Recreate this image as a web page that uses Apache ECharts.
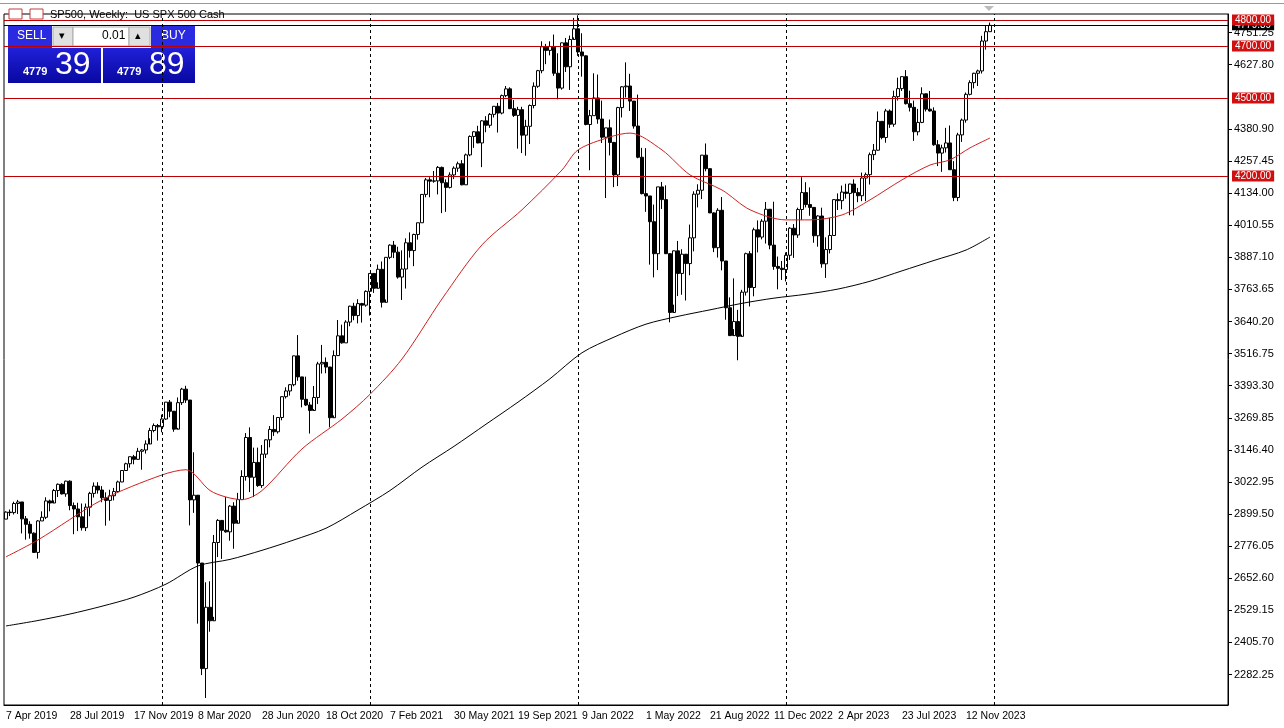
<!DOCTYPE html>
<html>
<head>
<meta charset="utf-8">
<script src="https://cdn.jsdelivr.net/npm/echarts@6/dist/echarts.min.js"></script>
<style>
html,body{margin:0;padding:0;background:#fff;}
#chart{width:1284px;height:728px;}
</style>
</head>
<body>
<div id="chart"></div>
<script>
// weekly candles, first week starts 7 Apr 2019
var firstOpen = 2880;
var closes = [
// 2019
2907,2905,2940,2946,2881,2860,2826,2752,2873,2887,2950,2942,2990,3014,2977,3026,2932,2919,2889,2847,
2926,2979,3007,2992,2962,2952,2970,2986,3023,3067,3093,3120,3110,3141,3146,3169,3221,3240,3235,
// 2020
3265,3330,3295,3226,3328,3380,3338,2954,2972,2711,2305,2541,2489,2790,2875,2837,2831,2930,2864,2955,
3044,3194,3041,3098,3009,3130,3185,3225,3216,3271,3351,3373,3397,3508,3427,3341,3319,3298,3348,3477,
3483,3465,3270,3509,3585,3558,3638,3699,3663,3709,3703,3756,
// 2021
3825,3768,3841,3714,3887,3934,3907,3811,3842,3943,3913,3975,4020,4129,4185,4180,4181,4233,4174,4156,
4204,4230,4247,4166,4281,4352,4370,4327,4412,4395,4437,4468,4442,4509,4535,4459,4433,4455,4357,4391,
4471,4545,4605,4697,4683,4698,4595,4538,4712,4620,4725,4766,
// 2022
4677,4662,4398,4432,4500,4419,4349,4385,4329,4204,4463,4543,4546,4488,4392,4272,4132,4123,4024,3901,
4158,4109,3901,3675,3912,3825,3899,3863,3962,4130,4145,4280,4228,4058,3924,4068,3873,3693,3586,3640,
3583,3753,3901,3771,3993,3965,4026,4072,3934,3852,3845,3840,
// 2023
3895,3999,3973,4071,4136,4090,4079,3970,4046,3862,3917,3971,4109,4105,4138,4133,4169,4136,4124,4192,
4205,4282,4299,4410,4348,4450,4399,4505,4536,4582,4478,4464,4370,4406,4516,4457,4450,4320,4288,4308,
4327,4224,4117,4358,4415,4514,4559,4595,4604,4719,4755,4779.39
];
var lows = [
2880,2892,2898,2900,2825,2801,2805,2750,2728,2873,2880,2910,2952,2965,2975,2966,2914,2822,2834,2836,
2834,2891,2963,2978,2945,2855,2874,2952,2982,3022,3066,3078,3091,3108,3070,3132,3191,3214,3182,
3214,3262,3272,3216,3231,3319,3327,2856,2904,2478,2280,2192,2447,2504,2734,2727,2828,2797,2766,2876,
2956,3028,2984,2965,3004,3000,3115,3156,3200,3209,3260,3344,3355,3391,3412,3310,3315,3209,3303,3323,
3440,3441,3233,3279,3511,3555,3558,3622,3645,3633,3636,3697,
3663,3750,3791,3694,3725,3880,3884,3805,3723,3767,3886,3853,3955,4020,4118,4118,4174,4129,4057,4062,
4152,4188,4216,4164,4165,4276,4308,4326,4234,4368,4385,4425,4367,4437,4503,4457,4427,4305,4288,4278,
4323,4460,4539,4595,4630,4664,4585,4495,4532,4600,4531,4733,
4662,4582,4395,4222,4432,4401,4327,4115,4279,4157,4161,4425,4502,4450,4382,4268,4129,4062,3859,3810,
3838,4073,3900,3637,3705,3738,3743,3721,3818,3910,4079,4111,4218,4057,3907,3886,3837,3647,3584,3611,
3491,3590,3740,3698,3737,3906,3956,3940,3918,3839,3764,3800,
3794,3877,3885,3962,4031,4079,4047,3943,3928,3847,3808,3902,3971,4069,4072,4113,4049,4048,4099,4103,
4103,4167,4261,4297,4341,4328,4385,4389,4490,4527,4475,4448,4335,4356,4403,4448,4448,4316,4238,4216,
4290,4223,4103,4103,4331,4405,4510,4537,4546,4594,4686,4755
];
var highs = [
2910,2917,2947,2954,2940,2892,2872,2829,2876,2910,2964,2955,2996,3017,3018,3028,3029,2944,2943,2940,
2940,2985,3021,3022,3007,2983,2993,3000,3028,3068,3097,3121,3127,3154,3150,3183,3231,3248,3246,
3282,3330,3338,3285,3348,3385,3393,3337,3137,2882,2562,2637,2641,2819,2880,2869,2965,2934,2945,2981,
3068,3211,3233,3155,3155,3165,3187,3238,3280,3272,3352,3387,3399,3509,3588,3426,3428,3330,3392,3485,
3550,3502,3466,3529,3646,3628,3645,3701,3712,3726,3712,3760,
3826,3823,3859,3871,3887,3937,3950,3928,3914,3960,3983,3978,4020,4130,4192,4195,4219,4238,4236,4187,
4214,4237,4255,4261,4286,4356,4372,4393,4415,4430,4442,4469,4481,4513,4546,4541,4492,4466,4466,4416,
4475,4560,4608,4718,4708,4718,4744,4672,4713,4731,4740,4808,
4818,4749,4664,4454,4595,4590,4490,4385,4417,4331,4466,4546,4637,4593,4471,4513,4308,4307,4081,4090,
4158,4177,4164,3837,3913,3950,3918,3880,4013,4141,4168,4281,4325,4223,4060,4076,4119,3870,3733,3806,
3685,3762,3905,3911,4001,4029,4034,4100,4052,4101,3890,3873,
3906,4003,4015,4078,4195,4176,4156,4076,4049,4078,3964,4039,4110,4133,4163,4170,4170,4187,4154,4213,
4213,4290,4323,4448,4410,4458,4456,4528,4578,4583,4607,4528,4490,4458,4541,4514,4527,4464,4338,4320,
4385,4394,4257,4366,4421,4521,4568,4597,4609,4739,4778,4790
];
var ma50Points = [[0,2735],[8,2800],[24,2954],[39,3050],[45,3070],[51,2990],[55,2965],[59,2955],[64,2990],[74,3150],
[84,3265],[91,3360],[99,3496],[109,3727],[119,3935],[129,4070],[139,4223],[143,4300],[151,4350],[156,4365],
[164,4300],[171,4204],[179,4146],[186,4070],[195,4031],[201,4031],[209,4050],[216,4108],[224,4185],[231,4242],
[236,4262],[241,4308],[246,4346]];
var ma200Points = [[0,2469],[8,2490],[16,2515],[24,2545],[32,2580],[40,2630],[48,2700],[56,2725],[64,2760],[72,2800],
[80,2845],[88,2915],[96,2990],[104,3080],[112,3160],[120,3245],[128,3330],[136,3420],[144,3520],[152,3580],
[160,3630],[168,3660],[176,3685],[184,3710],[192,3730],[200,3745],[208,3765],[216,3795],[224,3835],[232,3875],
[240,3915],[246,3965]];
var yTicks = [2282.25,2405.70,2529.15,2652.60,2776.05,2899.50,3022.95,3146.40,3269.85,3393.30,3516.75,3640.20,
3763.65,3887.10,4010.55,4134.00,4257.45,4380.90,4627.80,4751.25];
var levels = [4800,4700,4500,4200];
var yearBreaks = [39,91,143,195,247];
var slots = 306;
var lastLabel = 240;

var months = ['Jan','Feb','Mar','Apr','May','Jun','Jul','Aug','Sep','Oct','Nov','Dec'];
var cats = [];
var start = Date.UTC(2019,3,7);
for (var i=0;i<slots;i++){
    var d = new Date(start + i*7*86400000);
    cats.push(d.getUTCDate()+' '+months[d.getUTCMonth()]+' '+d.getUTCFullYear());
}
var candles = [];
for (var j=0;j<closes.length;j++){
    var o = j==0 ? firstOpen : closes[j-1];
    candles.push([o, closes[j], lows[j], highs[j]]);
}
function sparse(points){
    var arr = [];
    for (var k=0;k<closes.length;k++) arr.push(null);
    for (var p=0;p<points.length;p++) arr[points[p][0]] = points[p][1];
    return arr;
}
function showTick(i){ return i%16==0 && i<=lastLabel; }

var font = 'Liberation Sans';
var chart = echarts.init(document.getElementById('chart'));
var levelLines = levels.map(function(v){
    return {yAxis:v, lineStyle:{color:'#c00000',type:'solid',width:1},
        label:{show:true,position:'end',formatter:v.toFixed(2),color:'#fff',backgroundColor:'#d01010',
            padding:[1,3,0,3],fontSize:10,fontFamily:font,distance:4}};
});
levelLines.unshift({yAxis:4779.39, lineStyle:{color:'#000',type:'solid',width:1},
    label:{show:true,position:'end',formatter:'4779.39',color:'#fff',backgroundColor:'#000',
        padding:[0,3,0,3],fontSize:10,fontFamily:font,distance:4}});
var breakLines = yearBreaks.map(function(ix){
    return {xAxis:ix, lineStyle:{color:'#000',type:[3,3],width:1}, label:{show:false}};
});

var option = {
    animation:false,
    backgroundColor:'#fff',
    grid:{left:4,right:56,top:14,bottom:23,show:true,borderColor:'#000',borderWidth:1},
    xAxis:{type:'category',data:cats,boundaryGap:true,
        axisLine:{lineStyle:{color:'#000'}},
        axisTick:{alignWithLabel:true,interval:showTick,lineStyle:{color:'#000'},length:5},
        axisLabel:{interval:0,align:'left',margin:6,color:'#000',fontSize:10.5,fontFamily:font,
            hideOverlap:false,
            formatter:function(v,i){return showTick(i)?v:'';}},
        splitLine:{show:false}},
    yAxis:{type:'value',position:'right',min:2165,max:4823,scale:true,
        axisLine:{show:true,lineStyle:{color:'#000'}},
        axisTick:{show:true,customValues:yTicks,length:4,lineStyle:{color:'#000'}},
        axisLabel:{customValues:yTicks,color:'#000',fontSize:11,fontFamily:font,margin:6,
            formatter:function(v){return v.toFixed(2);}},
        splitLine:{show:false}},
    series:[
        {type:'candlestick',data:candles,barWidth:3,
            itemStyle:{color:'#fff',color0:'#000',borderColor:'#000',borderColor0:'#000',borderWidth:1},
            markLine:{symbol:'none',silent:true,data:levelLines.concat(breakLines)}},
        {type:'line',data:sparse(ma50Points),connectNulls:true,smooth:0.3,symbol:'none',
            lineStyle:{color:'#d02020',width:1}},
        {type:'line',data:sparse(ma200Points),connectNulls:true,smooth:0.3,symbol:'none',
            lineStyle:{color:'#000',width:1}}
    ],
    graphic:[
        {type:'rect',shape:{x:0,y:3,width:1284,height:1},style:{fill:'#999'}},
        {type:'text',left:50,top:9,style:{text:'SP500, Weekly:  US SPX 500 Cash',fontSize:11,fontFamily:font,fill:'#000'}},
        {type:'rect',shape:{x:9,y:9,width:13,height:10},style:{fill:'#fff',stroke:'#c04040',lineWidth:1}},
        {type:'rect',shape:{x:30,y:9,width:13,height:10},style:{fill:'#fff',stroke:'#c04040',lineWidth:1}},
        // trade panel
        {type:'rect',shape:{x:8,y:26,width:44,height:22},style:{fill:'#2a2ae0'}},
        {type:'text',x:17,y:30,style:{text:'SELL',fontSize:12,fontFamily:font,fill:'#fff'}},
        {type:'rect',shape:{x:53,y:27,width:20,height:19},style:{fill:'#e0e0e0',stroke:'#aaa'}},
        {type:'text',x:59,y:30,style:{text:'▾',fontSize:11,fill:'#000'}},
        {type:'rect',shape:{x:73,y:27,width:56,height:19},style:{fill:'#fff',stroke:'#aaa'}},
        {type:'text',x:102,y:30,style:{text:'0.01',fontSize:12,fontFamily:font,fill:'#000'}},
        {type:'rect',shape:{x:129,y:27,width:21,height:19},style:{fill:'#e0e0e0',stroke:'#aaa'}},
        {type:'text',x:135,y:30,style:{text:'▴',fontSize:11,fill:'#000'}},
        {type:'rect',shape:{x:151,y:26,width:44,height:22},style:{fill:'#2a2ae0'}},
        {type:'text',x:161,y:30,style:{text:'BUY',fontSize:12,fontFamily:font,fill:'#fff'}},
        {type:'rect',shape:{x:8,y:48,width:93,height:35},style:{fill:new echarts.graphic.LinearGradient(0,0,0,1,[{offset:0,color:'#2020d8'},{offset:1,color:'#0808a0'}])}},
        {type:'rect',shape:{x:103,y:48,width:92,height:35},style:{fill:new echarts.graphic.LinearGradient(0,0,0,1,[{offset:0,color:'#2020d8'},{offset:1,color:'#0808a0'}])}},
        {type:'text',x:23,y:66,style:{text:'4779',fontSize:11,fontWeight:'bold',fontFamily:font,fill:'#fff'}},
        {type:'text',x:55,y:49,style:{text:'39',fontSize:32,fontFamily:font,fill:'#fff'}},
        {type:'text',x:117,y:66,style:{text:'4779',fontSize:11,fontWeight:'bold',fontFamily:font,fill:'#fff'}},
        {type:'text',x:149,y:49,style:{text:'89',fontSize:32,fontFamily:font,fill:'#fff'}},
        {type:'polygon',shape:{points:[[984,6],[994,6],[989,11]]},style:{fill:'#bbb'}}
    ]
};
chart.setOption(option);
</script>
</body>
</html>
